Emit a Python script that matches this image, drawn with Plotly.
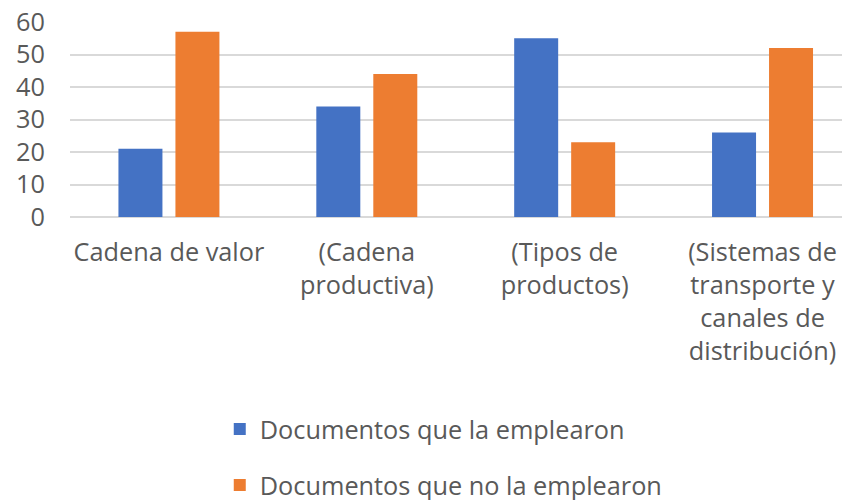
import plotly.graph_objects as go

categories = ["Cadena de valor", "(Cadena productiva)", "(Tipos de productos)",
              "(Sistemas de transporte y canales de distribución)"]
tick_labels = ["Cadena de valor", "(Cadena<br>productiva)", "(Tipos de<br>productos)",
               "(Sistemas de<br>transporte y<br>canales de<br>distribución)"]
series_names = ["Documentos que la emplearon", "Documentos que no la emplearon"]
used = [21, 34, 55, 26]
not_used = [57, 44, 23, 52]
y_ticks = [0, 10, 20, 30, 40, 50, 60]

colors = ["#4472C4", "#ED7D31"]
font_family = "'Open Sans', Lato, sans-serif"
txt = "#595959"
fs = 25.3

fig = go.Figure()
for i, (name, vals) in enumerate(zip(series_names, [used, not_used])):
    fig.add_trace(go.Bar(x=categories, y=vals, name=name, marker_color=colors[i],
                         marker_line_width=0, legendgroup=f"g{i}"))

fig.update_layout(
    width=842, height=492,
    margin=dict(l=62, r=0, t=14, b=283, autoexpand=False),
    paper_bgcolor="white", plot_bgcolor="white",
    barmode="group", bargap=0.424, bargroupgap=0.228,
    font=dict(family=font_family, size=fs, color=txt),
    showlegend=True,
    legend=dict(orientation="v", x=0.192, xanchor="left", y=-0.97, yanchor="top",
                traceorder="grouped", tracegroupgap=20,
                font=dict(size=fs, color=txt), itemwidth=30),
)
fig.update_xaxes(tickvals=categories, ticktext=tick_labels, range=[-0.5, 3.442],
                 showgrid=False, showline=False, ticks="", ticklabelstandoff=18,
                 ticklabeloverflow="allow",
                 tickfont=dict(size=fs, color=txt))
fig.update_yaxes(range=[0, 60], tickvals=y_ticks, showgrid=True, gridcolor="#D9D9D9",
                 gridwidth=1.5, zeroline=True, zerolinecolor="#D9D9D9", zerolinewidth=1.5,
                 showline=False, ticks="", ticklabelstandoff=24,
                 ticklabeloverflow="allow",
                 tickfont=dict(size=fs, color=txt))

fig.write_html("out.html")
